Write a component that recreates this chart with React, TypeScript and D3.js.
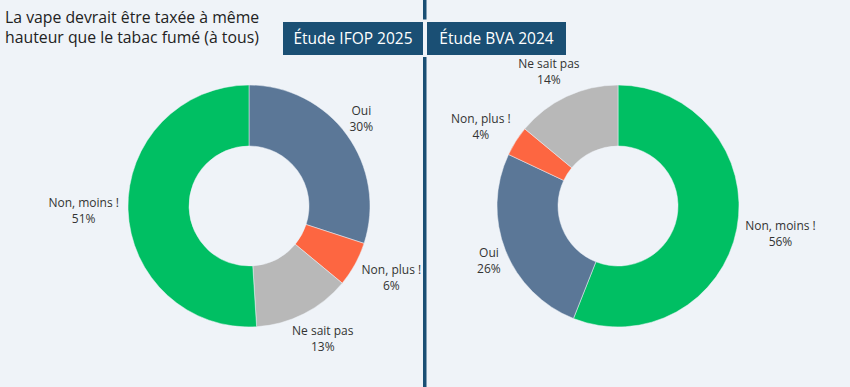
import React, { useRef, useEffect } from 'react';
import * as d3 from 'd3';

const titleLines = ['La vape devrait être taxée à même', 'hauteur que le tabac fumé (à tous)'];
const studyNames = ['Étude IFOP 2025', 'Étude BVA 2024'];

const categoriesIfop = ['Oui', 'Non, plus !', 'Ne sait pas', 'Non, moins !'];
const valuesIfop = [30, 6, 13, 51];

const categoriesBva = ['Non, moins !', 'Oui', 'Non, plus !', 'Ne sait pas'];
const valuesBva = [56, 26, 4, 14];

const colorOf: Record<string, string> = {
  'Oui': '#5b7797',
  'Non, plus !': '#fd6641',
  'Ne sait pas': '#b8b8b8',
  'Non, moins !': '#00bf63',
};

interface Slice {
  label: string;
  value: number;
}

const WIDTH = 850;
const HEIGHT = 387;
const BG = '#eff3f8';
const DARK = '#1a4f74';

const App: React.FC = () => {
  const svgRef = useRef<SVGSVGElement | null>(null);

  useEffect(() => {
    if (!svgRef.current) return;
    const svg = d3.select(svgRef.current);
    svg.selectAll('*').remove();

    svg.append('rect').attr('width', WIDTH).attr('height', HEIGHT).attr('fill', BG);

    // divider
    svg.append('rect')
      .attr('x', 423).attr('y', 0)
      .attr('width', 3.5).attr('height', HEIGHT)
      .attr('fill', DARK);

    // title
    const title = svg.append('text')
      .attr('font-family', '"Open Sans", sans-serif')
      .attr('font-size', 15.8)
      .attr('fill', '#222');
    titleLines.forEach((t, i) => {
      title.append('tspan').attr('x', 5).attr('y', 22.5 + i * 20.5).text(t);
    });

    // study headers
    svg.append('rect')
      .attr('x', 280).attr('y', 19.5)
      .attr('width', 290).attr('height', 37.5)
      .attr('fill', BG);
    const boxes = [{ x: 283, w: 140 }, { x: 427, w: 139 }];
    boxes.forEach((b, i) => {
      svg.append('rect')
        .attr('x', b.x).attr('y', 22)
        .attr('width', b.w).attr('height', 33)
        .attr('fill', DARK);
      svg.append('text')
        .attr('x', b.x + b.w / 2).attr('y', 44)
        .attr('text-anchor', 'middle')
        .attr('font-family', '"Open Sans", sans-serif')
        .attr('font-size', 15.5)
        .attr('fill', '#fff')
        .text(studyNames[i]);
    });

    const pie = d3.pie<Slice>().sort(null).value(d => d.value);
    const arc = d3.arc<d3.PieArcDatum<Slice>>().innerRadius(60).outerRadius(121);

    const drawDonut = (cx: number, cy: number, cats: string[], vals: number[]) => {
      const data: Slice[] = cats.map((c, i) => ({ label: c, value: vals[i] }));
      const g = svg.append('g').attr('transform', `translate(${cx},${cy})`);

      g.selectAll('path')
        .data(pie(data))
        .enter()
        .append('path')
        .attr('d', arc)
        .attr('fill', d => colorOf[d.data.label])
        .attr('stroke', BG)
        .attr('stroke-width', 0.5);

      pie(data).forEach(d => {
        const mid = (d.startAngle + d.endAngle) / 2;
        const s = Math.sin(mid);
        const c = -Math.cos(mid);
        const lines = [d.data.label, `${d.data.value}%`];
        const halfW = d3.max(lines, l => l.length)! * 5.9 / 2;
        const halfH = 19;
        const x = s * (130 + halfW);
        const y = c * (130 + halfH);
        const t = g.append('text')
          .attr('text-anchor', 'middle')
          .attr('font-family', '"Open Sans", sans-serif')
          .attr('font-size', 12)
          .attr('fill', '#333');
        lines.forEach((l, i) => {
          t.append('tspan').attr('x', x).attr('y', y - 3.5 + i * 16).text(l);
        });
      });
    };

    drawDonut(249, 206, categoriesIfop, valuesIfop);
    drawDonut(618, 206, categoriesBva, valuesBva);
  }, []);

  return (
    <div style={{ position: 'absolute', left: 0, top: 0 }}>
      <svg ref={svgRef} width={WIDTH} height={HEIGHT} style={{ display: 'block' }}></svg>
    </div>
  );
};

export default App;
